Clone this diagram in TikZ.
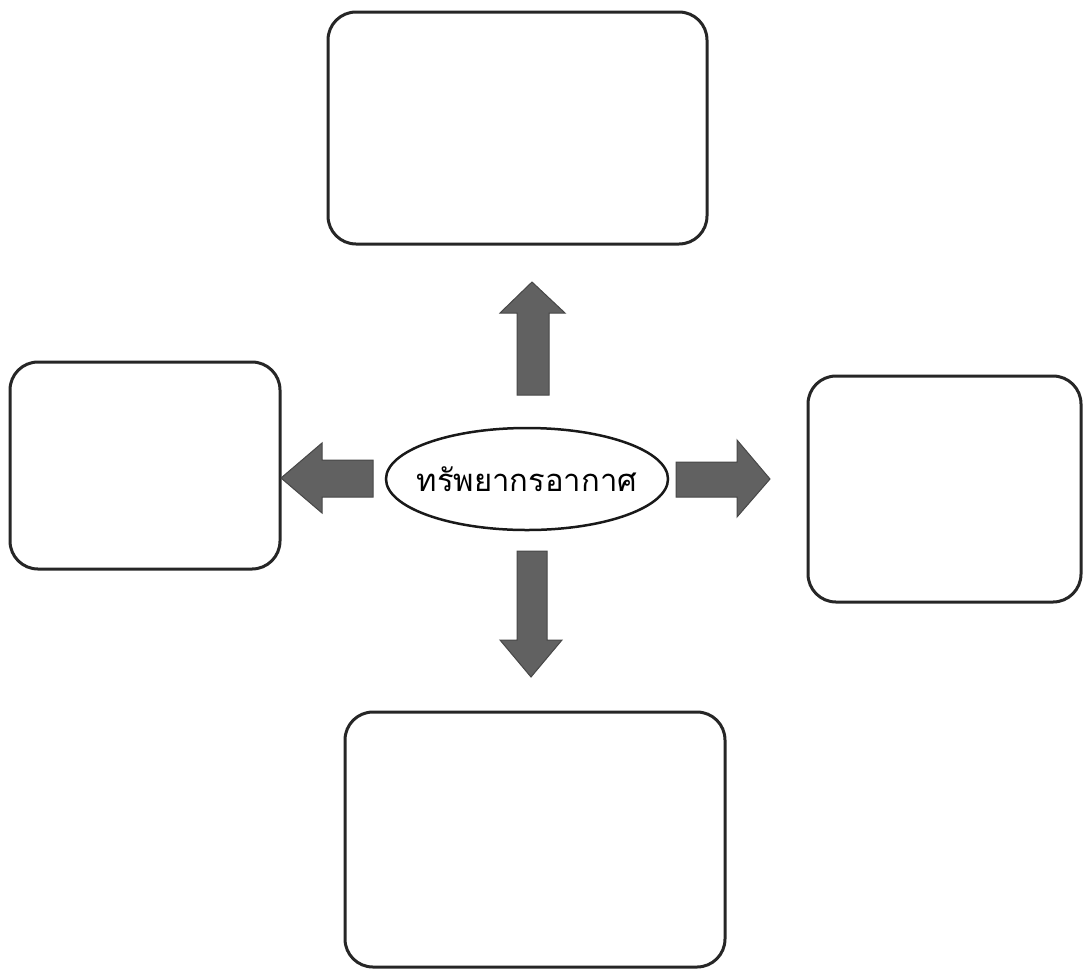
\documentclass[tikz,border=0pt]{standalone}
\usepackage{fontspec}
\newfontfamily\thaifont[Script=Thai]{Loma}
\usetikzlibrary{shapes.geometric}
\tikzset{
  box/.style={draw=black!85, line width=3pt, rounded corners=28pt, fill=white},
  blockarrow/.style={fill=black!62, draw=black!72, line width=1pt},
  hub/.style={draw=black!90, line width=2.5pt, ellipse, minimum width=282pt, minimum height=102pt, inner sep=0pt}
}
\begin{document}
\begin{tikzpicture}[x=1pt,y=-1pt]
\useasboundingbox (0,0) rectangle (1084,970);
% boxes
\draw[box] (328,12) rectangle (707,244);
\draw[box] (10,362) rectangle (280,569);
\draw[box] (808,376) rectangle (1081,602);
\draw[box] (345,712) rectangle (725,967);
% hub
\node[hub] (hub) at (527,479) {\makebox[0pt]{\thaifont\fontsize{31pt}{34pt}\selectfont ทรัพยากรอากาศ}};
% arrows
\draw[blockarrow] (517,395) -- (517,313) -- (500,313) -- (532,282) -- (565,313) -- (549,313) -- (549,395) -- cycle;
\draw[blockarrow] (517,551) -- (517,640) -- (500,640) -- (531,677) -- (562,640) -- (547,640) -- (547,551) -- cycle;
\draw[blockarrow] (373,460) -- (322,460) -- (322,443) -- (281,478) -- (322,513) -- (322,497) -- (373,497) -- cycle;
\draw[blockarrow] (676,462) -- (737,462) -- (737,440) -- (770,479) -- (737,517) -- (737,497) -- (676,497) -- cycle;
\end{tikzpicture}
\end{document}
